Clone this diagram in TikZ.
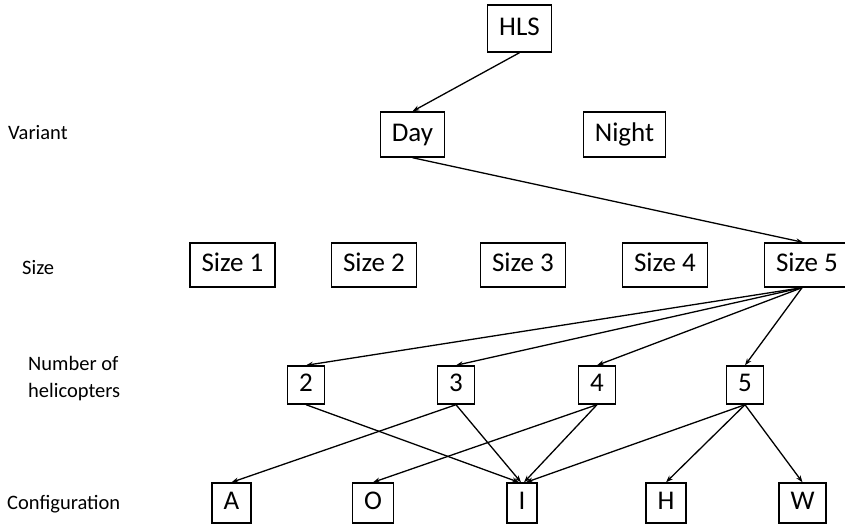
\documentclass[tikz,border=0pt]{standalone}
\usepackage{fontspec}
\setmainfont{Carlito}
\usetikzlibrary{arrows.meta}
\begin{document}
\begin{tikzpicture}[x=1pt,y=-1pt,
  box/.style={draw=black,line width=1.4pt,font=\fontsize{27}{31}\selectfont,
    inner xsep=11.5pt,inner ysep=0pt,text height=18pt,text depth=5pt,anchor=center},
  tall/.style={box,minimum height=45pt},
  mid/.style={box,minimum height=44pt},
  small/.style={box,minimum height=38pt},
  cfg/.style={box,minimum height=40pt},
  lbl/.style={font=\fontsize{20.5}{25}\selectfont,anchor=west,inner sep=0pt,align=left},
  link/.style={line width=1.3pt,-{Stealth[length=7pt,width=5pt]}}]
\useasboundingbox (0,0) rectangle (845,528);

% root and variants
\node[box,minimum height=47pt] (hls) at (519.5,28.5) {HLS};
\node[tall] (day) at (412.5,134.5) {Day};
\node[tall] (night) at (624.5,134.5) {Night};

% sizes (the last box runs past the right edge of the page)
\node[mid] (s1) at (232.5,265) {Size 1};
\node[mid] (s2) at (374,265) {Size 2};
\node[mid] (s3) at (523,265) {Size 3};
\node[mid] (s4) at (665,265) {Size 4};
\node[mid] (s5) at (807,265) {Size 5};
\coordinate (s5in) at ([xshift=-4pt]s5.north);
\coordinate (s5out) at ([xshift=-5pt]s5.south);

% number of helicopters
\node[small] (n2) at (306,385) {2};
\node[small] (n3) at (456,385) {3};
\node[small] (n4) at (597,385) {4};
\node[small] (n5) at (745,385) {5};

% configurations
\node[cfg] (ca) at (231.5,503) {A};
\node[cfg] (co) at (373,503) {O};
\node[cfg] (ci) at (522,503) {I};
\node[cfg] (ch) at (666,503) {H};
\node[cfg] (cw) at (802.5,503) {W};

% row labels
\node[lbl] (lvar) at (8,133) {Variant};
\node[lbl] (lsize) at (22,268) {Size};
\node[lbl] (lnum) at (28,379) {Number of\\[2pt]helicopters};
\node[lbl] (lcfg) at (7,504) {Configuration};

% connectors
\draw[link] (hls.south) -- (day.north);
\draw[link] (day.south) -- (s5in);
\draw[link] (s5out) -- (n2.north);
\draw[link] (s5out) -- (n3.north);
\draw[link] (s5out) -- (n4.north);
\draw[link] (s5out) -- (n5.north);
\draw[link] (n2.south) -- ([xshift=-3pt]ci.north);
\draw[link] (n3.south) -- (ca.north);
\draw[link] (n3.south) -- ([xshift=-1pt]ci.north);
\draw[link] (n4.south) -- (co.north);
\draw[link] (n4.south) -- ([xshift=2pt]ci.north);
\draw[link] (n5.south) -- ([xshift=4pt]ci.north);
\draw[link] (n5.south) -- (ch.north);
\draw[link] (n5.south) -- (cw.north);
\end{tikzpicture}
\end{document}
